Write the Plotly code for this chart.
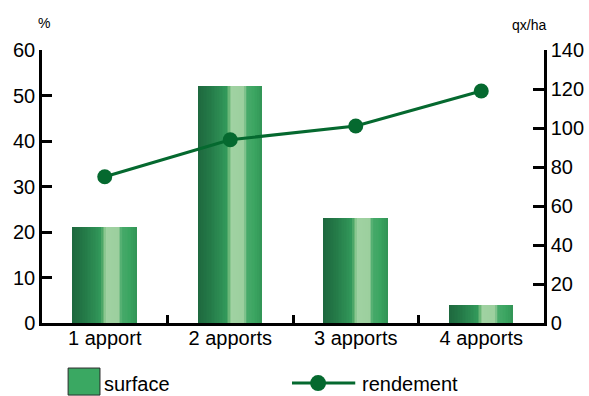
import plotly.graph_objects as go

# Data
categories = ["1 apport", "2 apports", "3 apports", "4 apports"]
surface = [21, 52, 23, 4]          # % of area
rendement = [75, 94, 101, 119]     # yield, qx/ha
left_ticks = [0, 10, 20, 30, 40, 50, 60]
right_ticks = [0, 20, 40, 60, 80, 100, 120, 140]

FONT = "Liberation Sans, Arial, sans-serif"
LINE_GREEN = "#05692f"

# Colour stops for the cylindrical shading of the bars (position, rgb)
stops = [
    (0.00, (30, 104, 62)),
    (0.20, (36, 122, 72)),
    (0.44, (50, 152, 90)),
    (0.49, (110, 185, 122)),
    (0.53, (160, 210, 162)),
    (0.72, (156, 207, 158)),
    (0.77, (72, 170, 106)),
    (0.90, (58, 164, 96)),
    (1.00, (50, 148, 86)),
]


def shade(t):
    for (p0, c0), (p1, c1) in zip(stops, stops[1:]):
        if p0 <= t <= p1:
            f = (t - p0) / (p1 - p0) if p1 > p0 else 0
            r, g, b = (round(a + (bb - a) * f) for a, bb in zip(c0, c1))
            return f"rgb({r},{g},{b})"
    return "rgb(50,148,86)"


BAR_W = 0.51
N_STRIPS = 40
strip_w = BAR_W / N_STRIPS

fig = go.Figure()

# Bars are built from thin overlaid strips to give a shaded, rounded look
for i in range(N_STRIPS):
    fig.add_trace(go.Bar(
        x=categories, y=surface,
        width=strip_w * 1.15, offset=-BAR_W / 2 + i * strip_w,
        marker=dict(color=shade((i + 0.5) / N_STRIPS), line=dict(width=0)),
        showlegend=False, hoverinfo="skip",
    ))

fig.add_trace(go.Scatter(
    x=categories, y=rendement, yaxis="y2", mode="lines+markers",
    line=dict(color=LINE_GREEN, width=3),
    marker=dict(color=LINE_GREEN, size=15),
    showlegend=False,
))

axis_common = dict(
    showline=True, linecolor="black", linewidth=2.5,
    ticks="inside", tickcolor="black", tickwidth=2.5,
    showgrid=False, zeroline=False, automargin=False,
    tickfont=dict(family=FONT, size=20, color="black"),
)

fig.update_layout(
    width=589, height=396,
    margin=dict(l=42, r=45, t=50, b=73),
    paper_bgcolor="white", plot_bgcolor="white",
    barmode="overlay", bargap=0,
    showlegend=False,
    xaxis=dict(**axis_common, tickson="boundaries", ticklen=8,
               range=[-0.5, 3.5], ticklabelstandoff=-5),
    yaxis=dict(**axis_common, range=[0, 60], tickvals=left_ticks, ticklen=10),
    yaxis2=dict(**axis_common, range=[0, 140], tickvals=right_ticks,
                ticklen=11, overlaying="y", side="right"),
)

# Axis unit labels
fig.add_annotation(text="%", x=0.003, y=1.1, xref="paper", yref="paper",
                   xanchor="center", yanchor="middle", showarrow=False,
                   font=dict(family=FONT, size=14, color="black"))
fig.add_annotation(text="qx/ha", x=0.97, y=1.09, xref="paper", yref="paper",
                   xanchor="center", yanchor="middle", showarrow=False,
                   font=dict(family=FONT, size=14, color="black"))

# Legend: bar swatch
fig.add_shape(type="rect", xref="paper", yref="paper",
              x0=0.052, x1=0.1155, y0=-0.165, y1=-0.264,
              fillcolor="#3aa862", line=dict(color="#2a2a2a", width=1))
fig.add_annotation(text="surface", x=0.12, y=-0.222, xref="paper", yref="paper",
                   xanchor="left", yanchor="middle", showarrow=False,
                   font=dict(family=FONT, size=20, color="black"))

# Legend: line with marker
fig.add_shape(type="line", xref="paper", yref="paper",
              x0=0.498, x1=0.624, y0=-0.22, y1=-0.22,
              line=dict(color=LINE_GREEN, width=3))
fig.add_shape(type="circle", xref="paper", yref="paper",
              xsizemode="pixel", ysizemode="pixel",
              xanchor=0.55, yanchor=-0.22, x0=-8, x1=8, y0=-8, y1=8,
              fillcolor=LINE_GREEN, line=dict(width=0))
fig.add_annotation(text="rendement", x=0.634, y=-0.222, xref="paper", yref="paper",
                   xanchor="left", yanchor="middle", showarrow=False,
                   font=dict(family=FONT, size=20, color="black"))

fig.write_html("out.html")
